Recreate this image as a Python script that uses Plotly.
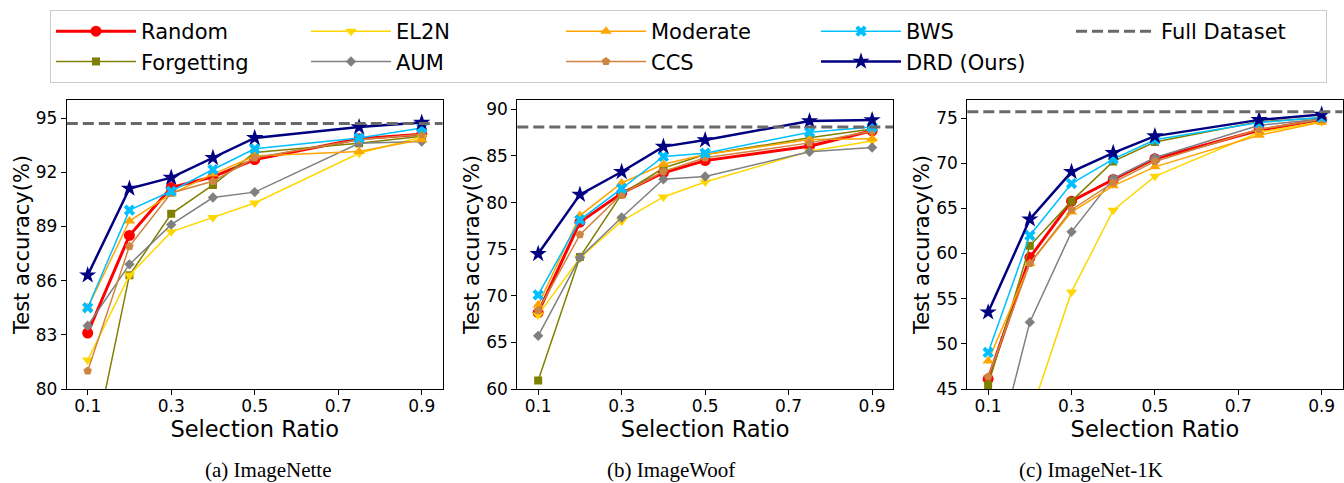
import plotly.graph_objects as go
from plotly.subplots import make_subplots

# ---------------- data ----------------
ratios = [0.1, 0.2, 0.3, 0.4, 0.5, 0.75, 0.9]
x_ticks = [0.1, 0.3, 0.5, 0.7, 0.9]
x_tick_labels = ["0.1", "0.3", "0.5", "0.7", "0.9"]

datasets = ["ImageNette", "ImageWoof", "ImageNet-1K"]
captions = ["(a) ImageNette", "(b) ImageWoof", "(c) ImageNet-1K"]

# ImageNette
nette_random = [83.1, 88.5, 91.15, 91.75, 92.7, 93.85, 94.1]
nette_forgetting = [75.2, 86.3, 89.7, 91.3, 93.1, 93.6, 94.0]
nette_el2n = [81.6, 86.3, 88.7, 89.5, 90.3, 93.05, 93.95]
nette_aum = [83.5, 86.9, 89.1, 90.6, 90.9, 93.6, 93.7]
nette_moderate = [84.5, 89.3, 90.8, 91.9, 92.9, 93.15, 93.8]
nette_ccs = [81.0, 87.9, 90.85, 91.5, 92.8, 93.8, 94.1]
nette_bws = [84.5, 89.9, 90.95, 92.15, 93.3, 93.9, 94.45]
nette_drd = [86.3, 91.1, 91.7, 92.8, 93.9, 94.5, 94.75]
nette_full = 94.7

# ImageWoof
woof_random = [68.2, 77.9, 81.0, 83.2, 84.5, 86.05, 87.7]
woof_forgetting = [60.9, 74.15, 80.9, 83.7, 85.15, 86.95, 87.9]
woof_el2n = [67.95, 74.05, 78.0, 80.6, 82.2, 85.5, 86.6]
woof_aum = [65.7, 74.1, 78.4, 82.5, 82.8, 85.45, 85.9]
woof_moderate = [69.0, 78.6, 82.1, 84.1, 85.15, 86.75, 86.85]
woof_ccs = [68.4, 76.55, 80.9, 83.35, 84.8, 86.4, 87.65]
woof_bws = [70.1, 78.15, 81.5, 84.95, 85.3, 87.55, 88.1]
woof_drd = [74.5, 80.85, 83.3, 86.0, 86.7, 88.75, 88.85]
woof_full = 88.1

# ImageNet-1K
in1k_random = [46.1, 59.55, 65.8, 68.2, 70.5, 73.65, 74.85]
in1k_forgetting = [45.45, 60.85, 65.8, 70.2, 72.35, 74.6, 75.0]
in1k_el2n = [30.0, 42.0, 55.75, 64.8, 68.55, 73.4, 74.6]
in1k_aum = [34.3, 52.4, 62.4, 68.3, 70.6, 74.2, 74.9]
in1k_moderate = [48.1, 58.9, 64.6, 67.5, 69.6, 73.1, 74.55]
in1k_ccs = [46.35, 58.9, 64.85, 67.85, 70.2, 73.75, 74.85]
in1k_bws = [49.05, 62.0, 67.75, 70.45, 72.6, 74.5, 75.1]
in1k_drd = [53.5, 63.8, 69.05, 71.15, 73.0, 74.8, 75.4]
in1k_full = 75.7

y_ranges = [[80, 96.0], [60, 91.0], [45, 77.0]]
y_dticks = [3, 5, 5]

# ---------------- styles ----------------
methods = ["Random", "Forgetting", "EL2N", "AUM", "Moderate", "CCS", "BWS", "DRD (Ours)"]
series = {
    "Random": [nette_random, woof_random, in1k_random],
    "Forgetting": [nette_forgetting, woof_forgetting, in1k_forgetting],
    "EL2N": [nette_el2n, woof_el2n, in1k_el2n],
    "AUM": [nette_aum, woof_aum, in1k_aum],
    "Moderate": [nette_moderate, woof_moderate, in1k_moderate],
    "CCS": [nette_ccs, woof_ccs, in1k_ccs],
    "BWS": [nette_bws, woof_bws, in1k_bws],
    "DRD (Ours)": [nette_drd, woof_drd, in1k_drd],
}
full_values = [nette_full, woof_full, in1k_full]

style = {
    "Random": dict(color="#ff0000", symbol="circle", size=11, width=3, rank=1),
    "EL2N": dict(color="#ffd700", symbol="triangle-down", size=10, width=1.5, rank=2),
    "Moderate": dict(color="#ffa500", symbol="triangle-up", size=10, width=1.5, rank=3),
    "BWS": dict(color="#00bfff", symbol="x", size=10, width=1.5, rank=4),
    "Forgetting": dict(color="#808000", symbol="square", size=8, width=1.5, rank=6),
    "AUM": dict(color="#808080", symbol="diamond", size=8, width=1.5, rank=7),
    "CCS": dict(color="#cd853f", symbol="pentagon", size=9, width=1.5, rank=8),
    "DRD (Ours)": dict(color="#000080", symbol="star", size=13, width=2.5, rank=9),
}

FONT = "DejaVu Sans"
W, H = 1344, 483

fig = make_subplots(rows=1, cols=3)

for ci in range(3):
    for m in methods:
        st = style[m]
        fig.add_trace(
            go.Scatter(
                x=ratios,
                y=series[m][ci],
                mode="lines+markers",
                name=m,
                legendgroup=m,
                legendrank=st["rank"],
                showlegend=(ci == 0),
                line=dict(color=st["color"], width=st["width"]),
                marker=dict(symbol=st["symbol"], size=st["size"], color=st["color"],
                            line=dict(width=0)),
                cliponaxis=True,
            ),
            row=1, col=ci + 1,
        )

# Full dataset reference lines
for ci in range(3):
    xref = "x domain" if ci == 0 else f"x{ci + 1} domain"
    yref = "y" if ci == 0 else f"y{ci + 1}"
    fig.add_shape(
        type="line", xref=xref, yref=yref, x0=0, x1=1,
        y0=full_values[ci], y1=full_values[ci],
        line=dict(color="#696969", width=3, dash="11px,5px"),
        name="Full Dataset", legendgroup="Full Dataset", legendrank=5,
        showlegend=(ci == 0), layer="above",
    )

# axis domains (pixel-measured)
x_domains = [[66.8 / W, 442.6 / W], [517.3 / W, 893.0 / W], [967.3 / W, 1342.5 / W]]
y_domain = [(H - 389) / H, (H - 100) / H]

for ci in range(3):
    fig.update_xaxes(
        row=1, col=ci + 1,
        domain=x_domains[ci], range=[0.05, 0.95],
        tickmode="array", tickvals=x_ticks, ticktext=x_tick_labels,
        showgrid=False, zeroline=False,
        showline=True, linecolor="black", linewidth=1, mirror=True,
        ticks="outside", ticklen=5, tickwidth=1, tickcolor="black",
        ticklabelstandoff=-3,
        tickfont=dict(family=FONT, size=17, color="black"),
        title=dict(text="Selection Ratio", font=dict(family=FONT, size=22.5, color="black"), standoff=0),
        automargin=False,
    )
    fig.update_yaxes(
        row=1, col=ci + 1,
        domain=y_domain, range=y_ranges[ci],
        tick0=y_ranges[ci][0], dtick=y_dticks[ci],
        showgrid=False, zeroline=False,
        showline=True, linecolor="black", linewidth=1, mirror=True,
        ticks="outside", ticklen=5, tickwidth=1, tickcolor="black",
        tickfont=dict(family=FONT, size=17, color="black"),
        title=dict(text="Test accuracy(%)", font=dict(family=FONT, size=21, color="black"), standoff=0),
        automargin=False,
    )

caption_x = [268, 671, 1091]
for ci in range(3):
    fig.add_annotation(
        text=captions[ci], xref="paper", yref="paper",
        x=caption_x[ci] / W, y=0, xanchor="center", yanchor="bottom",
        showarrow=False, borderpad=0,
        font=dict(family="Liberation Serif, Times New Roman, serif", size=21, color="black"),
    )

fig.update_layout(
    width=W, height=H,
    margin=dict(l=0, r=0, t=0, b=0),
    paper_bgcolor="white", plot_bgcolor="white",
    font=dict(family=FONT, color="black"),
    legend=dict(
        orientation="h",
        x=50 / W, xanchor="left",
        y=(H - 10) / H, yanchor="top",
        entrywidth=160, entrywidthmode="pixels",
        itemwidth=80,
        font=dict(family=FONT, size=21, color="black"),
        bgcolor="white", bordercolor="#cccccc", borderwidth=1,
        traceorder="normal",
    ),
)

fig.write_html(
    "out.html",
    config={"displayModeBar": False},
    post_script="document.body.style.margin='0px';document.body.style.padding='0px';",
)
